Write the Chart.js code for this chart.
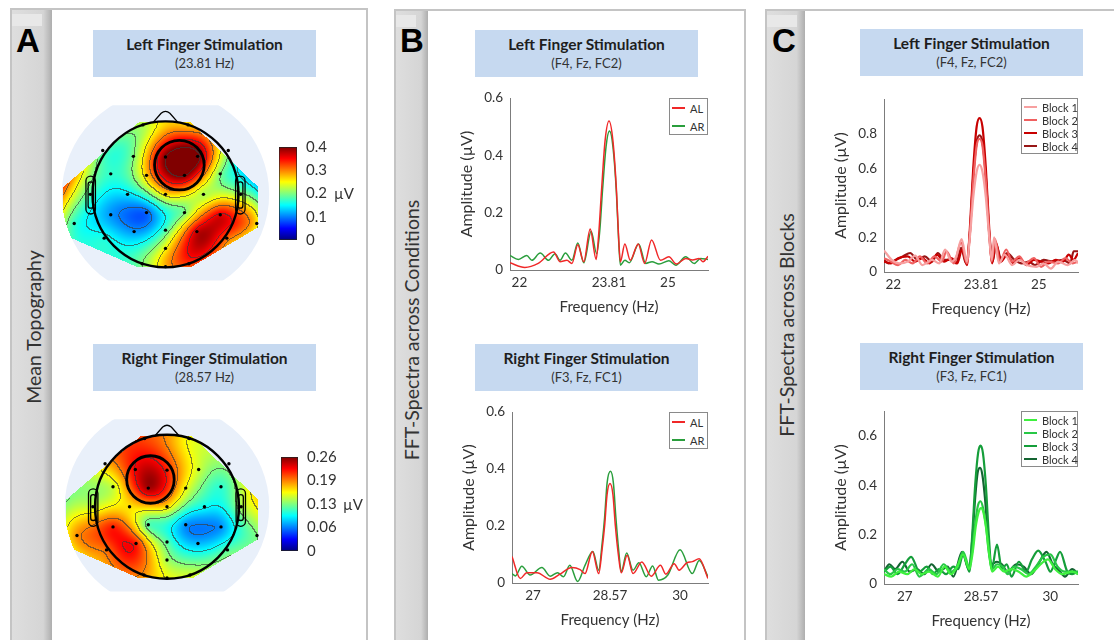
<!DOCTYPE html>
<html>
<head>
<meta charset="utf-8">
<script src="https://cdn.jsdelivr.net/npm/chart.js@4.4.1/dist/chart.umd.min.js"></script>
<style>
  body { margin: 0; width: 1114px; height: 640px; overflow: hidden; background: #fff; position: relative; font-family: Lato, "Open Sans", sans-serif; }
  .panel { position: absolute; box-sizing: border-box; height: 700px; border: 2px solid #c4c4c4; background: #fff; }
  .strip { position: absolute; top: 0; bottom: 0; left: 0; background: linear-gradient(to right, #dedede 0%, #d5d5d5 78%, #aeaeae 100%); }
  .patch { position: absolute; top: 4px; height: 12px; background: #e8e8e8; }
  .letter { position: absolute; font: bold 33px Arial, "Liberation Sans", sans-serif; line-height: 1; color: #000; }
  .vlabel { position: absolute; transform: translate(-50%, -50%) rotate(-90deg); white-space: nowrap; font-size: 19.5px; color: #333; }
  .tbox { position: absolute; width: 223px; height: 47px; background: #c6d9f0; text-align: center; color: #1e1e1e; }
  .tbox b { display: block; font-size: 15.5px; line-height: 18px; margin-top: 5px; }
  .tbox span { display: block; font-size: 13px; line-height: 16px; margin-top: 2px; color: #333; }
  canvas { position: absolute; }
  .unit { position: absolute; font-size: 15px; color: #333; transform: translateY(-50%); }
  .legend { position: absolute; box-sizing: border-box; border: 1px solid #8a8a8a; background: #fff; color: #333; }
  .lrow { position: absolute; left: 2px; white-space: nowrap; display: flex; align-items: center; }
  .lrow i { display: inline-block; }
</style>
</head>
<body>

<div class="panel" style="left:10px;top:8px;width:358px"><div class="strip" style="width:40px"></div><div class="patch" style="left:0;width:30px"></div></div>
<div class="panel" style="left:394px;top:9px;width:352px"><div class="strip" style="width:32px"></div><div class="patch" style="left:0;width:20px"></div></div>
<div class="panel" style="left:765px;top:9px;width:360px"><div class="strip" style="width:38px"></div><div class="patch" style="left:0;width:30px"></div></div>

<div class="letter" style="left:16px;top:24px">A</div>
<div class="letter" style="left:400px;top:24px">B</div>
<div class="letter" style="left:772px;top:24px">C</div>

<div class="vlabel" style="left:33px;top:327px">Mean Topography</div>
<div class="vlabel" style="left:411px;top:330px">FFT-Spectra across Conditions</div>
<div class="vlabel" style="left:786px;top:325px">FFT-Spectra across Blocks</div>

<div class="tbox" style="left:93px;top:30px"><b>Left Finger Stimulation</b><span>(23.81 Hz)</span></div>
<div class="tbox" style="left:93px;top:344px"><b>Right Finger Stimulation</b><span>(28.57 Hz)</span></div>
<div class="tbox" style="left:475px;top:30px"><b>Left Finger Stimulation</b><span>(F4, Fz, FC2)</span></div>
<div class="tbox" style="left:475px;top:344px"><b>Right Finger Stimulation</b><span>(F3, Fz, FC1)</span></div>
<div class="tbox" style="left:860px;top:29px"><b>Left Finger Stimulation</b><span>(F4, Fz, FC2)</span></div>
<div class="tbox" style="left:860px;top:343px"><b>Right Finger Stimulation</b><span>(F3, Fz, FC1)</span></div>

<canvas id="topoL"></canvas>
<canvas id="topoR"></canvas>
<canvas id="cbarL"></canvas>
<canvas id="cbarR"></canvas>
<div class="unit" style="left:334px;top:193px">µV</div>
<div class="unit" style="left:343px;top:504px">µV</div>

<canvas id="bTop"></canvas>
<canvas id="bBot"></canvas>
<canvas id="cTop"></canvas>
<canvas id="cBot"></canvas>

<script>
// electrodes (head radius = 1, x to the right, y to the nose)
const elecName = ['Fp1','Fp2','F7','F3','Fz','F4','F8','FC5','FC1','FC2','FC6','T7','C3','Cz','C4','T8',
                  'CP5','CP1','CP2','CP6','TP9','TP10','P7','P3','Pz','P4','P8','POz','O1','Oz','O2'];
const elecX = [-0.31,0.31,-0.86,-0.44,0,0.44,0.86,-0.75,-0.26,0.26,0.75,-1.03,-0.52,0,0.52,1.03,
               -0.75,-0.26,0.26,0.75,-1.25,1.25,-0.84,-0.43,0,0.43,0.84,0,-0.32,0,0.32];
const elecY = [0.95,0.95,0.60,0.52,0.51,0.52,0.60,0.28,0.26,0.26,0.28,0,0,0,0,0,
               -0.28,-0.25,-0.25,-0.28,-0.40,-0.40,-0.60,-0.51,-0.49,-0.51,-0.60,-0.74,-0.95,-0.99,-0.95];

// mean amplitude per electrode (µV)
const topoLeftVal = [0.22,0.27,0.19,0.20,0.40,0.41,0.20,0.17,0.27,0.40,0.20,0.18,0.14,0.26,0.22,0.21,
                     0.11,0.09,0.20,0.36,0.17,0.26,0.16,0.11,0.18,0.37,0.31,0.25,0.20,0.28,0.33];
const topoRightVal = [0.21,0.16,0.18,0.23,0.22,0.15,0.14,0.15,0.25,0.16,0.11,0.15,0.17,0.17,0.10,0.14,
                      0.22,0.12,0.07,0.07,0.19,0.13,0.20,0.22,0.12,0.08,0.12,0.14,0.19,0.16,0.15];
const roiLeft = [0.19, 0.40, 0.34];   // centre x, centre y, radius
const roiRight = [-0.23, 0.38, 0.33];

const cbarLeftMax = 0.4;
const cbarLeftTicks = [0, 0.1, 0.2, 0.3, 0.4];
const cbarLeftLabels = ['0', '0.1', '0.2', '0.3', '0.4'];
const cbarRightMax = 0.26;
const cbarRightTicks = [0, 0.065, 0.13, 0.195, 0.26];
const cbarRightLabels = ['0', '0.06', '0.13', '0.19', '0.26'];

// spectra: left finger (23.81 Hz), right finger (28.57 Hz)
const leftRange = [21.81, 25.81];
const leftTicks = [22, 23.81, 25];
const leftLabels = ['22', '23.81', '25'];
const rightRange = [26.57, 30.57];
const rightTicks = [27, 28.57, 30];
const rightLabels = ['27', '28.57', '30'];

const bLeftFreqAL = [21.81,22.11,22.38,22.69,22.82,22.96,23.06,23.18,23.30,23.43,23.55,23.60,23.66,23.73,23.81,23.89,23.96,24.00,24.04,24.13,24.24,24.40,24.53,24.67,24.85,25.02,25.17,25.36,25.50,25.63,25.71,25.81];
const bLeftAmpAL  = [0.025,0.009,0.023,0.063,0.029,0.034,0.023,0.088,0.029,0.143,0.037,0.12,0.28,0.45,0.52,0.45,0.28,0.13,0.029,0.091,0.034,0.091,0.023,0.105,0.034,0.046,0.021,0.040,0.035,0.040,0.029,0.048];
const bLeftFreqAR = [21.81,21.98,22.15,22.25,22.42,22.59,22.72,22.82,22.93,23.06,23.18,23.30,23.45,23.56,23.62,23.68,23.75,23.82,23.89,23.96,24.00,24.04,24.13,24.22,24.41,24.55,24.68,24.82,25.02,25.16,25.36,25.53,25.66,25.81];
const bLeftAmpAR  = [0.051,0.037,0.051,0.034,0.059,0.034,0.057,0.034,0.059,0.034,0.094,0.025,0.135,0.057,0.13,0.28,0.43,0.485,0.43,0.27,0.12,0.017,0.034,0.025,0.091,0.023,0.029,0.021,0.032,0.017,0.046,0.023,0.040,0.037];

const bRightFreqAL = [26.57,26.74,26.87,27.08,27.35,27.55,27.79,27.96,28.06,28.21,28.34,28.41,28.46,28.51,28.57,28.63,28.68,28.74,28.80,28.92,29.04,29.22,29.41,29.60,29.71,29.88,29.98,30.14,30.25,30.39,30.57];
const bRightAmpAL  = [0.093,0.016,0.036,0.036,0.013,0.031,0.054,0.047,0.033,0.111,0.033,0.12,0.20,0.31,0.349,0.31,0.20,0.10,0.036,0.097,0.033,0.074,0.024,0.062,0.031,0.068,0.045,0.071,0.075,0.085,0.016];
const bRightFreqAR = [26.57,26.64,26.77,26.94,27.18,27.35,27.50,27.62,27.75,27.91,28.06,28.22,28.34,28.41,28.46,28.51,28.58,28.64,28.69,28.75,28.80,28.91,29.04,29.16,29.31,29.44,29.56,29.75,30.00,30.25,30.39,30.57];
const bRightAmpAR  = [0.033,0.025,0.059,0.028,0.054,0.024,0.036,0.022,0.062,0.005,0.062,0.111,0.045,0.14,0.23,0.35,0.392,0.35,0.23,0.11,0.039,0.105,0.045,0.071,0.022,0.060,0.010,0.028,0.117,0.033,0.079,0.022];

const cLeftFreq1 = [21.81,21.97,22.12,22.30,22.45,22.60,22.80,22.95,23.07,23.20,23.30,23.41,23.52,23.58,23.65,23.72,23.78,23.84,23.91,23.98,24.03,24.08,24.18,24.30,24.45,24.60,24.75,24.95,25.10,25.25,25.40,25.60,25.75,25.81];
const cLeftAmp1  = [0.125,0.07,0.05,0.06,0.095,0.04,0.07,0.05,0.13,0.06,0.09,0.19,0.06,0.20,0.43,0.58,0.62,0.58,0.43,0.20,0.07,0.20,0.05,0.10,0.04,0.07,0.04,0.03,0.05,0.02,0.06,0.04,0.07,0.05];
const cLeftFreq2 = [21.81,21.95,22.10,22.25,22.40,22.55,22.70,22.85,23.00,23.10,23.25,23.40,23.52,23.58,23.65,23.72,23.78,23.84,23.91,23.98,24.03,24.10,24.20,24.33,24.45,24.60,24.72,24.90,25.05,25.20,25.40,25.55,25.70,25.81];
const cLeftAmp2  = [0.08,0.06,0.04,0.07,0.05,0.09,0.05,0.09,0.06,0.12,0.05,0.17,0.05,0.22,0.52,0.73,0.77,0.73,0.52,0.22,0.06,0.19,0.06,0.13,0.06,0.09,0.05,0.08,0.03,0.06,0.05,0.08,0.05,0.06];
const cLeftFreq3 = [21.81,21.95,22.10,22.30,22.45,22.60,22.75,22.90,23.05,23.20,23.32,23.42,23.52,23.58,23.65,23.72,23.78,23.84,23.91,23.98,24.04,24.12,24.22,24.35,24.48,24.60,24.75,24.90,25.05,25.20,25.35,25.50,25.62,25.72,25.81];
const cLeftAmp3  = [0.06,0.05,0.08,0.09,0.06,0.08,0.05,0.10,0.06,0.08,0.05,0.13,0.04,0.25,0.60,0.84,0.89,0.84,0.60,0.25,0.05,0.17,0.06,0.10,0.05,0.08,0.04,0.07,0.06,0.05,0.07,0.06,0.10,0.07,0.11];
const cLeftFreq4 = [21.81,21.90,22.05,22.20,22.35,22.50,22.65,22.80,22.92,23.05,23.20,23.30,23.40,23.50,23.58,23.65,23.72,23.78,23.84,23.91,23.98,24.05,24.12,24.22,24.35,24.50,24.65,24.80,24.92,25.10,25.30,25.50,25.65,25.72,25.81];
const cLeftAmp4  = [0.07,0.05,0.07,0.09,0.11,0.07,0.09,0.06,0.11,0.07,0.07,0.05,0.14,0.05,0.22,0.55,0.75,0.79,0.75,0.55,0.22,0.06,0.16,0.08,0.11,0.07,0.05,0.06,0.04,0.07,0.06,0.07,0.05,0.12,0.12];

const cRightFreq1 = [26.57,26.72,26.88,27.05,27.20,27.35,27.50,27.68,27.82,27.95,28.08,28.20,28.33,28.40,28.46,28.52,28.57,28.62,28.68,28.74,28.80,28.92,29.05,29.20,29.35,29.50,29.65,29.80,29.95,30.10,30.25,30.45,30.57];
const cRightAmp1  = [0.04,0.03,0.05,0.04,0.06,0.04,0.05,0.03,0.07,0.04,0.07,0.12,0.06,0.13,0.23,0.29,0.307,0.29,0.22,0.12,0.05,0.07,0.05,0.06,0.05,0.03,0.05,0.08,0.10,0.06,0.04,0.05,0.04];
const cRightFreq2 = [26.57,26.70,26.85,27.00,27.15,27.30,27.50,27.65,27.80,27.95,28.10,28.20,28.33,28.40,28.46,28.51,28.56,28.61,28.67,28.73,28.80,28.90,29.02,29.12,29.25,29.40,29.55,29.70,29.85,30.00,30.15,30.30,30.45,30.57];
const cRightAmp2  = [0.06,0.04,0.06,0.05,0.08,0.03,0.06,0.04,0.08,0.05,0.08,0.13,0.07,0.15,0.26,0.32,0.335,0.31,0.24,0.13,0.06,0.08,0.07,0.04,0.07,0.06,0.04,0.07,0.11,0.12,0.07,0.05,0.05,0.05];
const cRightFreq3 = [26.57,26.70,26.85,27.00,27.13,27.30,27.45,27.58,27.70,27.85,28.00,28.10,28.20,28.33,28.39,28.45,28.51,28.56,28.61,28.67,28.73,28.79,28.90,29.00,29.10,29.20,29.35,29.50,29.62,29.75,29.90,30.00,30.10,30.20,30.35,30.45,30.57];
const cRightAmp3  = [0.05,0.07,0.04,0.08,0.11,0.05,0.07,0.04,0.06,0.04,0.07,0.06,0.12,0.05,0.20,0.40,0.53,0.56,0.53,0.40,0.20,0.06,0.16,0.06,0.08,0.03,0.09,0.05,0.10,0.135,0.09,0.05,0.09,0.13,0.05,0.04,0.05];
const cRightFreq4 = [26.57,26.68,26.80,26.95,27.10,27.25,27.40,27.55,27.70,27.88,28.00,28.18,28.32,28.39,28.45,28.50,28.55,28.60,28.66,28.72,28.78,28.90,29.00,29.12,29.30,29.45,29.60,29.75,29.92,30.05,30.20,30.30,30.45,30.57];
const cRightAmp4  = [0.05,0.08,0.06,0.09,0.05,0.06,0.04,0.08,0.05,0.07,0.03,0.13,0.06,0.18,0.35,0.45,0.47,0.44,0.33,0.17,0.08,0.09,0.08,0.05,0.08,0.07,0.04,0.08,0.13,0.08,0.05,0.03,0.06,0.04];

Chart.defaults.font.family = 'Lato, "Open Sans", sans-serif';
Chart.defaults.color = '#333';

// ---------- colour map ----------
function jet(t) {
  t = Math.max(0, Math.min(1, t));
  const f = a => Math.round(255 * Math.max(0, Math.min(1, 1.5 - Math.abs(4 * t - a))));
  return [f(3), f(2), f(1)];
}
const jetStops = [0, 0.125, 0.375, 0.625, 0.875, 1];

// biharmonic spline (same kernel as griddata 'v4')
function green(r) { return r > 0 ? r * r * (Math.log(r) - 1) : 0; }
function splineWeights(xs, ys, vs) {
  const n = xs.length, A = [];
  for (let i = 0; i < n; i++) {
    A.push([]);
    for (let j = 0; j < n; j++) A[i].push(green(Math.hypot(xs[i] - xs[j], ys[i] - ys[j])));
    A[i].push(vs[i]);
  }
  for (let c = 0; c < n; c++) {
    let p = c;
    for (let r = c + 1; r < n; r++) if (Math.abs(A[r][c]) > Math.abs(A[p][c])) p = r;
    [A[c], A[p]] = [A[p], A[c]];
    for (let r = 0; r < n; r++) {
      if (r === c) continue;
      const f = A[r][c] / A[c][c];
      for (let k = c; k <= n; k++) A[r][k] -= f * A[c][k];
    }
  }
  return A.map((row, i) => row[n] / row[i]);
}

// outline of the interpolated area
const maskPoly = [[-0.36,0.99],[0.34,0.99],[1.27,0.10],[1.27,-0.45],[0.36,-0.99],[-0.40,-0.99],[-1.40,-0.55],[-1.40,0.10]];
function inMask(x, y) {
  if (x * x + y * y > 1.42 * 1.42) return false;
  let inside = false;
  for (let i = 0, j = maskPoly.length - 1; i < maskPoly.length; j = i++) {
    const [xi, yi] = maskPoly[i], [xj, yj] = maskPoly[j];
    if ((yi > y) !== (yj > y) && x < (xj - xi) * (y - yi) / (yj - yi) + xi) inside = !inside;
  }
  return inside;
}

function topoPlugin(vals, vmax, roi) {
  const wts = splineWeights(elecX, elecY, vals);
  return {
    id: 'topo',
    beforeDatasetsDraw(chart) {
      const { ctx, chartArea: ca, scales: { x, y } } = chart;
      const X = v => x.getPixelForValue(v), Y = v => y.getPixelForValue(v);
      const k = X(1) - X(0);

      ctx.save();
      ctx.beginPath(); ctx.rect(ca.left, Y(1.22), ca.width, Y(-1.18) - Y(1.22)); ctx.clip();
      ctx.beginPath(); ctx.arc(X(0), Y(0), 1.42 * k, 0, 2 * Math.PI);
      ctx.fillStyle = '#e9f0fa'; ctx.fill();
      ctx.restore();

      const W = Math.round(ca.width), H = Math.round(ca.height);
      const off = document.createElement('canvas'); off.width = W; off.height = H;
      const octx = off.getContext('2d');
      const img = octx.createImageData(W, H);
      const lev = new Int16Array(W * H).fill(-1);
      const step = vmax / 8;
      for (let j = 0; j < H; j++) {
        const ny = y.getValueForPixel(ca.top + j + 0.5);
        for (let i = 0; i < W; i++) {
          const nx = x.getValueForPixel(ca.left + i + 0.5);
          if (!inMask(nx, ny)) continue;
          let v = 0;
          for (let e = 0; e < elecX.length; e++) v += wts[e] * green(Math.hypot(nx - elecX[e], ny - elecY[e]));
          const c = jet(v / vmax), o = 4 * (j * W + i);
          img.data[o] = c[0]; img.data[o + 1] = c[1]; img.data[o + 2] = c[2]; img.data[o + 3] = 255;
          lev[j * W + i] = Math.floor(v / step);
        }
      }
      // contour lines where the level changes
      for (let j = 0; j < H; j++) for (let i = 0; i < W; i++) {
        const id = j * W + i, L = lev[id];
        if (L < 0) continue;
        const a = i > 0 ? lev[id - 1] : -1, b = j > 0 ? lev[id - W] : -1;
        if ((a >= 0 && a !== L) || (b >= 0 && b !== L)) {
          const o = 4 * id;
          for (let q = 0; q < 3; q++) img.data[o + q] = Math.round(img.data[o + q] * 0.35 + 60 * 0.65);
        }
      }
      octx.putImageData(img, 0, 0);
      ctx.drawImage(off, ca.left, ca.top);

      ctx.save();
      ctx.strokeStyle = '#000';
      ctx.lineWidth = 2.4;
      ctx.beginPath(); ctx.arc(X(0), Y(0), k, 0, 2 * Math.PI); ctx.stroke();
      ctx.lineWidth = 1.3;
      ctx.beginPath();
      ctx.moveTo(X(-0.17), Y(0.985)); ctx.lineTo(X(-0.06), Y(1.11));
      ctx.quadraticCurveTo(X(0), Y(1.16), X(0.06), Y(1.11)); ctx.lineTo(X(0.17), Y(0.985));
      ctx.stroke();
      [-1, 1].forEach(s => {
        const x0 = s < 0 ? -1.09 : 0.96;
        ctx.beginPath(); ctx.roundRect(X(x0), Y(0.25), 0.13 * k, 0.52 * k, 0.065 * k); ctx.stroke();
        const x1 = s < 0 ? -1.06 : 0.99;
        ctx.beginPath(); ctx.roundRect(X(x1), Y(0.17), 0.07 * k, 0.36 * k, 0.035 * k); ctx.stroke();
      });
      ctx.lineWidth = 2.8;
      ctx.beginPath(); ctx.arc(X(roi[0]), Y(roi[1]), roi[2] * k, 0, 2 * Math.PI); ctx.stroke();
      ctx.restore();
    }
  };
}

function topo(id, cx, cy, R, vals, vmax, roi) {
  const cv = document.getElementById(id);
  cv.width = Math.round(3 * R); cv.height = Math.round(2.45 * R);
  cv.style.left = Math.round(cx - 1.5 * R) + 'px';
  cv.style.top = Math.round(cy - 1.25 * R) + 'px';
  new Chart(cv, {
    type: 'scatter',
    data: { datasets: [{ data: elecX.map((v, i) => ({ x: v, y: elecY[i] })), pointRadius: 1.7, backgroundColor: '#000', borderWidth: 0 }] },
    options: {
      responsive: false, animation: false,
      layout: { padding: 0, autoPadding: false },
      plugins: { legend: { display: false }, tooltip: { enabled: false } },
      scales: {
        x: { type: 'linear', min: -1.5, max: 1.5, display: false },
        y: { type: 'linear', min: -1.2, max: 1.25, display: false }
      }
    },
    plugins: [topoPlugin(vals, vmax, roi)]
  });
}

function colorbar(id, left, top, barW, barH, vmax, ticks, labels) {
  const cv = document.getElementById(id);
  cv.width = barW + 46; cv.height = barH + 24;
  cv.style.left = left + 'px'; cv.style.top = (top - 12) + 'px';
  new Chart(cv, {
    type: 'bar',
    data: {
      labels: [''],
      datasets: [{
        data: [[0, vmax]],
        backgroundColor: c => {
          const ys = c.chart.scales.y;
          const y0 = ys ? ys.getPixelForValue(0) : NaN, y1 = ys ? ys.getPixelForValue(vmax) : NaN;
          if (!isFinite(y0) || !isFinite(y1) || y0 === y1) return '#888';
          const g = c.chart.ctx.createLinearGradient(0, y0, 0, y1);
          jetStops.forEach(t => { const q = jet(t); g.addColorStop(t, `rgb(${q[0]},${q[1]},${q[2]})`); });
          return g;
        },
        borderColor: '#222', borderWidth: 1, borderSkipped: false,
        barPercentage: 1, categoryPercentage: 1
      }]
    },
    options: {
      responsive: false, animation: false,
      layout: { padding: { top: 12, bottom: 12, left: 0, right: 0 }, autoPadding: false },
      plugins: { legend: { display: false }, tooltip: { enabled: false } },
      scales: {
        x: { display: false },
        y: {
          position: 'right', min: 0, max: vmax,
          grid: { display: false, drawTicks: false }, border: { display: false },
          afterBuildTicks: s => { s.ticks = ticks.map(v => ({ value: v })); },
          afterFit: s => { s.width = 46; },
          ticks: { callback: (v, i) => labels[i], padding: 9, font: { size: 15 }, color: '#333' }
        }
      }
    }
  });
}

function legend(left, top, w, h, rowH, pad, fs, series) {
  const d = document.createElement('div');
  d.className = 'legend';
  Object.assign(d.style, { left: left + 'px', top: top + 'px', width: w + 'px', height: h + 'px', fontSize: fs + 'px' });
  series.forEach((s, i) => {
    const r = document.createElement('div');
    r.className = 'lrow';
    Object.assign(r.style, { top: (pad + i * rowH) + 'px', height: rowH + 'px' });
    r.innerHTML = `<i style="width:13px;height:${s.w}px;background:${s.color};margin-right:5px"></i>${s.label}`;
    d.appendChild(r);
  });
  document.body.appendChild(d);
}

function spectrum(id, box, range, ticks, labels, yMax, yTicks, series) {
  const [l, t, r, b] = box;
  const cv = document.getElementById(id);
  cv.width = r - l + 82; cv.height = b - t + 67;
  cv.style.left = (l - 70) + 'px'; cv.style.top = (t - 12) + 'px';
  new Chart(cv, {
    type: 'line',
    data: {
      datasets: series.map(s => ({
        label: s.label,
        data: s.f.map((f, i) => ({ x: f, y: s.a[i] })),
        borderColor: s.color, borderWidth: s.w,
        pointRadius: 0, fill: false, cubicInterpolationMode: 'monotone'
      }))
    },
    options: {
      responsive: false, animation: false,
      layout: { padding: { left: 0, top: 12, right: 12, bottom: 0 }, autoPadding: false },
      plugins: { legend: { display: false }, tooltip: { enabled: false } },
      scales: {
        x: {
          type: 'linear', min: range[0], max: range[1],
          grid: { display: false, drawTicks: false }, border: { color: '#7c7c7c' },
          afterBuildTicks: s => { s.ticks = ticks.map(v => ({ value: v })); },
          afterFit: s => { s.height = 55; },
          ticks: { callback: (v, i) => labels[i], padding: 5, font: { size: 13.5 }, color: '#333', maxRotation: 0, autoSkip: false },
          title: { display: true, text: 'Frequency (Hz)', font: { size: 15 }, color: '#333', padding: { top: 0, bottom: 9 } }
        },
        y: {
          min: 0, max: yMax,
          grid: { display: false, drawTicks: false }, border: { color: '#7c7c7c' },
          afterBuildTicks: s => { s.ticks = yTicks.map(v => ({ value: v })); },
          afterFit: s => { s.width = 70; },
          ticks: { callback: v => String(v), padding: 7, font: { size: 13.5 }, color: '#333' },
          title: { display: true, text: 'Amplitude (µV)', font: { size: 16 }, color: '#333', padding: { top: 17.4, bottom: 0 } }
        }
      }
    }
  });
}

// ---------- panel A ----------
topo('topoL', 165.5, 194, 73, topoLeftVal, cbarLeftMax, roiLeft);
topo('topoR', 166.5, 506.5, 72, topoRightVal, cbarRightMax, roiRight);
colorbar('cbarL', 279, 141, 18, 105, cbarLeftMax, cbarLeftTicks, cbarLeftLabels);
colorbar('cbarR', 281, 451, 17, 106, cbarRightMax, cbarRightTicks, cbarRightLabels);

// ---------- panel B ----------
const bLeft = [
  { label: 'AL', f: bLeftFreqAL, a: bLeftAmpAL, color: '#f02828', w: 1.5 },
  { label: 'AR', f: bLeftFreqAR, a: bLeftAmpAR, color: '#2a9e3c', w: 1.5 }
];
const bRight = [
  { label: 'AL', f: bRightFreqAL, a: bRightAmpAL, color: '#f02828', w: 1.5 },
  { label: 'AR', f: bRightFreqAR, a: bRightAmpAR, color: '#2a9e3c', w: 1.5 }
];
spectrum('bTop', [510, 95, 708, 270], leftRange, leftTicks, leftLabels, 0.6, [0, 0.2, 0.4, 0.6], bLeft);
spectrum('bBot', [512, 409, 708, 583], rightRange, rightTicks, rightLabels, 0.6, [0, 0.2, 0.4, 0.6], bRight);
legend(669, 98, 39, 37, 18, 0, 11, bLeft);
legend(669, 412, 39, 37, 18, 0, 11, bRight);

// ---------- panel C ----------
const cLeft = [
  { label: 'Block 1', f: cLeftFreq1, a: cLeftAmp1, color: '#f7a0a0', w: 2.2 },
  { label: 'Block 2', f: cLeftFreq2, a: cLeftAmp2, color: '#f06060', w: 2.2 },
  { label: 'Block 3', f: cLeftFreq3, a: cLeftAmp3, color: '#c80000', w: 2.2 },
  { label: 'Block 4', f: cLeftFreq4, a: cLeftAmp4, color: '#981616', w: 2.2 }
];
const cRight = [
  { label: 'Block 1', f: cRightFreq1, a: cRightAmp1, color: '#3ef03e', w: 2.2 },
  { label: 'Block 2', f: cRightFreq2, a: cRightAmp2, color: '#28c846', w: 2.2 },
  { label: 'Block 3', f: cRightFreq3, a: cRightAmp3, color: '#159e3a', w: 2.2 },
  { label: 'Block 4', f: cRightFreq4, a: cRightAmp4, color: '#146432', w: 2.2 }
];
spectrum('cTop', [884, 96, 1078, 272], leftRange, leftTicks, leftLabels, 1.0, [0, 0.2, 0.4, 0.6, 0.8], cLeft);
spectrum('cBot', [884, 408, 1078, 584], rightRange, rightTicks, rightLabels, 0.7, [0, 0.2, 0.4, 0.6], cRight);
legend(1021, 98, 57, 56, 13, 1.5, 11, cLeft);
legend(1021, 411, 57, 56, 13, 1.5, 11, cRight);
</script>
</body>
</html>
